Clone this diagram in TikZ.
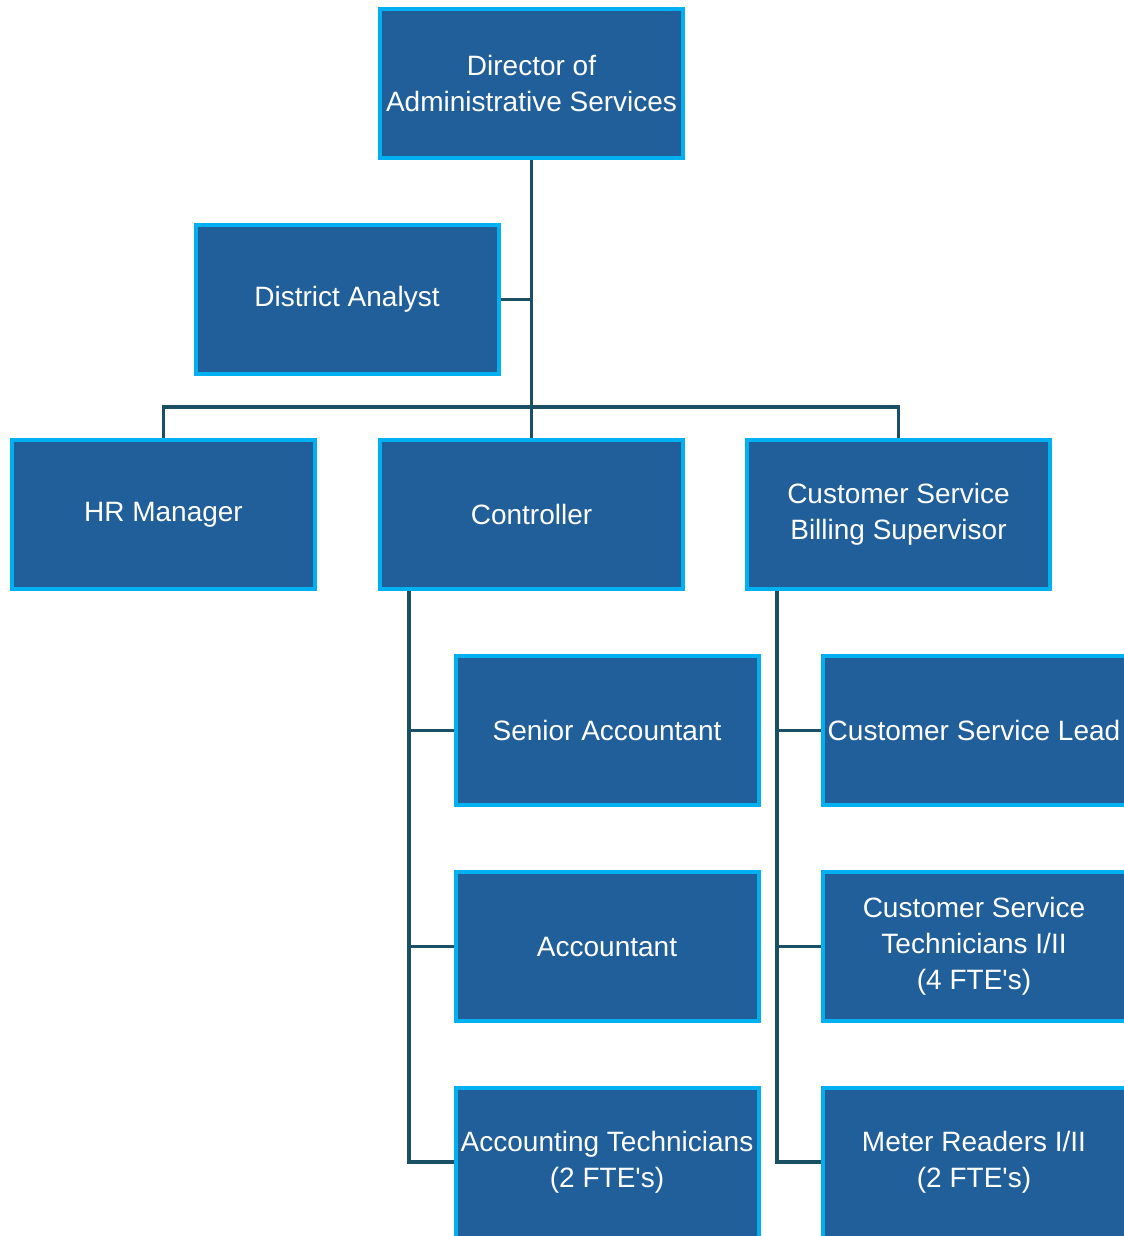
\documentclass[tikz,border=0pt]{standalone}
\usepackage{fontspec}
\setmainfont{Liberation Sans}
\newfontfamily\boxfont{Liberation Sans}
\usetikzlibrary{backgrounds}
\definecolor{boxfill}{HTML}{215F9A}
\definecolor{boxedge}{HTML}{00B0F0}
\definecolor{linkcol}{HTML}{1B4F66}
\begin{document}
\begin{tikzpicture}[x=0.75pt,y=-0.75pt,
  orgbox/.style={draw=boxedge,fill=boxfill,line width=3pt,minimum width=227.25pt,minimum height=111.75pt,
    inner sep=0pt,outer sep=0pt,align=center,text=white,font=\boxfont\fontsize{21}{27}\selectfont},
  cutbox/.style={orgbox,draw=none},
  edgeline/.style={draw=boxedge,line width=3pt},
  link/.style={draw=linkcol,line width=2.4pt}]
\useasboundingbox (0,0) rectangle (1124,1236);
\clip (0,0) rectangle (1124,1236);
\node[orgbox] (dir) at (531.5,83.5) {Director of\\Administrative Services};
\node[orgbox] (da) at (347,299.5) {District Analyst};
\node[orgbox] (hr) at (163.5,514.5) {HR Manager};
\node[orgbox] (ctrl) at (531.5,514.5) {Controller};
\node[orgbox] (csb) at (898.5,514.5) {Customer Service\\Billing Supervisor};
\node[orgbox] (sa) at (607,730.5) {Senior Accountant};
\node[orgbox] (acc) at (607,946.5) {Accountant};
\node[cutbox] (at) at (607,1162) {Accounting Technicians\\(2 FTE's)};
\node[cutbox] (csl) at (974,730.5) {Customer Service Lead};
\node[cutbox] (cst) at (974,946.5) {Customer Service\\Technicians I/II\\(4 FTE's)};
\node[cutbox] (mr) at (974,1162) {Meter Readers I/II\\(2 FTE's)};
\draw[edgeline] ([xshift=10pt]csl.north east) -- (csl.north west) -- (csl.south west) -- ([xshift=10pt]csl.south east);
\draw[edgeline] ([xshift=10pt]cst.north east) -- (cst.north west) -- (cst.south west) -- ([xshift=10pt]cst.south east);
\draw[edgeline] ([yshift=-10pt]at.south west) -- (at.north west) -- (at.north east) -- ([yshift=-10pt]at.south east);
\draw[edgeline] ([yshift=-10pt]mr.south west) -- (mr.north west) -- ([xshift=10pt]mr.north east);
\coordinate (bar) at (531.5,407);
\coordinate (cl) at (409,591);
\coordinate (cr) at (777,591);
\begin{scope}[on background layer]
\draw[link] (dir.south) -- (ctrl.north);
\draw[link] (da.east) -- (da.east -| dir.south);
\draw[link] (hr.north) |- (bar) -| (csb.north);
\draw[link] (cl) |- (sa.west);
\draw[link] (cl) |- (acc.west);
\draw[link] (cl) |- (at.west);
\draw[link] (cr) |- (csl.west);
\draw[link] (cr) |- (cst.west);
\draw[link] (cr) |- (mr.west);
\end{scope}
\end{tikzpicture}
\end{document}
